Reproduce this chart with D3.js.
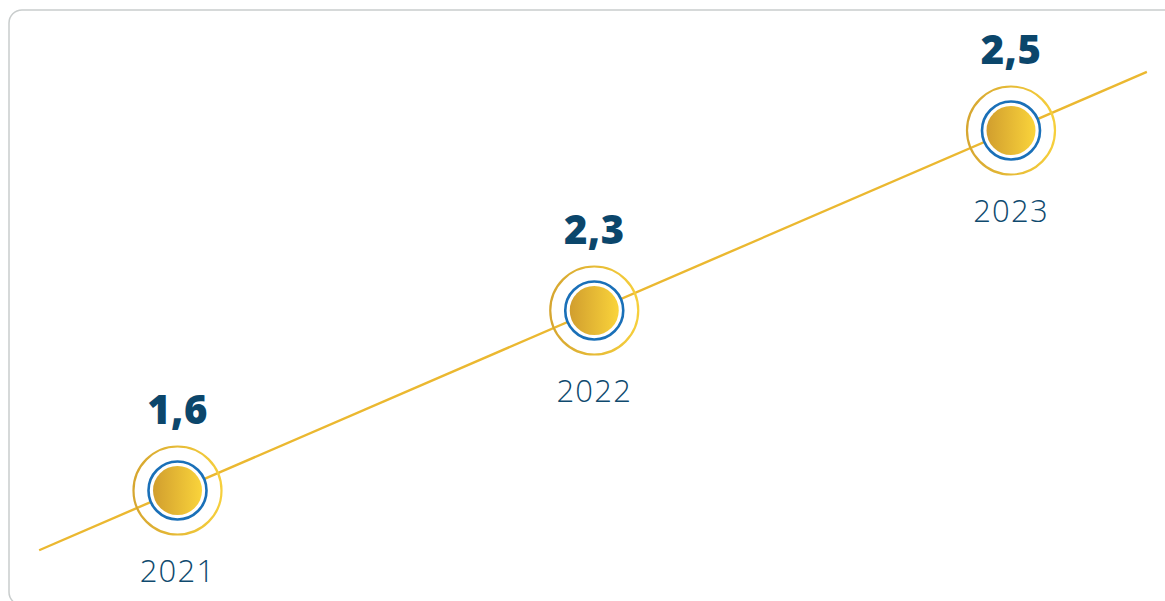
<!DOCTYPE html>
<html>
<head>
<meta charset="utf-8">
<script src="https://cdn.jsdelivr.net/npm/d3@7"></script>
<style>
  html, body { margin: 0; padding: 0; background: #ffffff; }
  svg { display: block; }
</style>
</head>
<body>
<div id="graph"></div>
<script>
const years = ["2021", "2022", "2023"];
const values = [1.6, 2.3, 2.5];
const valueLabels = ["1,6", "2,3", "2,5"];

const width = 1165;
const height = 601;

// markers sit evenly on a rising trend line
const xScale = d3.scaleLinear()
                 .domain([0, years.length - 1])
                 .range([177.5, 1011]);

const yScale = d3.scaleLinear()
                 .domain([0, years.length - 1])
                 .range([490.5, 130.5]);

const lineStart = -0.332;
const lineEnd = 2.326;

const svg = d3.create("svg")
              .attr("width", width)
              .attr("height", height)
              .attr("viewBox", `0 0 ${width} ${height}`);

const defs = svg.append("defs");

const fillGrad = defs.append("linearGradient")
                     .attr("id", "goldFill")
                     .attr("x1", "0%").attr("x2", "100%")
                     .attr("y1", "0%").attr("y2", "0%");
fillGrad.append("stop").attr("offset", "0%").attr("stop-color", "#d19e2e");
fillGrad.append("stop").attr("offset", "100%").attr("stop-color", "#fad43b");

const ringGrad = defs.append("linearGradient")
                     .attr("id", "goldRing")
                     .attr("x1", "0%").attr("x2", "100%")
                     .attr("y1", "0%").attr("y2", "0%");
ringGrad.append("stop").attr("offset", "0%").attr("stop-color", "#d6a630");
ringGrad.append("stop").attr("offset", "100%").attr("stop-color", "#f6cf3c");

//card
svg.append("rect")
   .attr("x", 9)
   .attr("y", 10)
   .attr("width", 1180)
   .attr("height", 595)
   .attr("rx", 13)
   .attr("fill", "#ffffff")
   .attr("stroke", "#c9cdcd")
   .attr("stroke-width", 1.5);

//trend line
svg.append("line")
   .attr("x1", xScale(lineStart))
   .attr("y1", yScale(lineStart))
   .attr("x2", xScale(lineEnd))
   .attr("y2", yScale(lineEnd))
   .attr("stroke", "#ebb830")
   .attr("stroke-width", 2.4);

const points = years.map((y, i) => ({ year: y, value: values[i], label: valueLabels[i], i }));

const marker = svg.selectAll(".marker")
                  .data(points)
                  .enter()
                  .append("g")
                  .attr("class", "marker")
                  .attr("transform", d => `translate(${xScale(d.i)}, ${yScale(d.i)})`);

marker.append("circle")
      .attr("r", 44)
      .attr("fill", "none")
      .attr("stroke", "url(#goldRing)")
      .attr("stroke-width", 2.2);

marker.append("circle")
      .attr("r", 29)
      .attr("fill", "#ffffff")
      .attr("stroke", "#1a70b8")
      .attr("stroke-width", 2.6);

marker.append("circle")
      .attr("r", 24.5)
      .attr("fill", "url(#goldFill)");

marker.append("text")
      .attr("y", -67)
      .attr("text-anchor", "middle")
      .attr("font-family", "'Open Sans', sans-serif")
      .attr("font-weight", 800)
      .attr("font-size", 40)
      .attr("letter-spacing", 0.5)
      .attr("fill", "#0b466b")
      .text(d => d.label);

marker.append("text")
      .attr("y", 91.5)
      .attr("text-anchor", "middle")
      .attr("font-family", "'Open Sans', sans-serif")
      .attr("font-weight", 350)
      .attr("font-size", 31)
      .attr("letter-spacing", 1.2)
      .attr("fill", "#0f4a6e")
      .text(d => d.year);

document.getElementById("graph").append(svg.node());
</script>
</body>
</html>
